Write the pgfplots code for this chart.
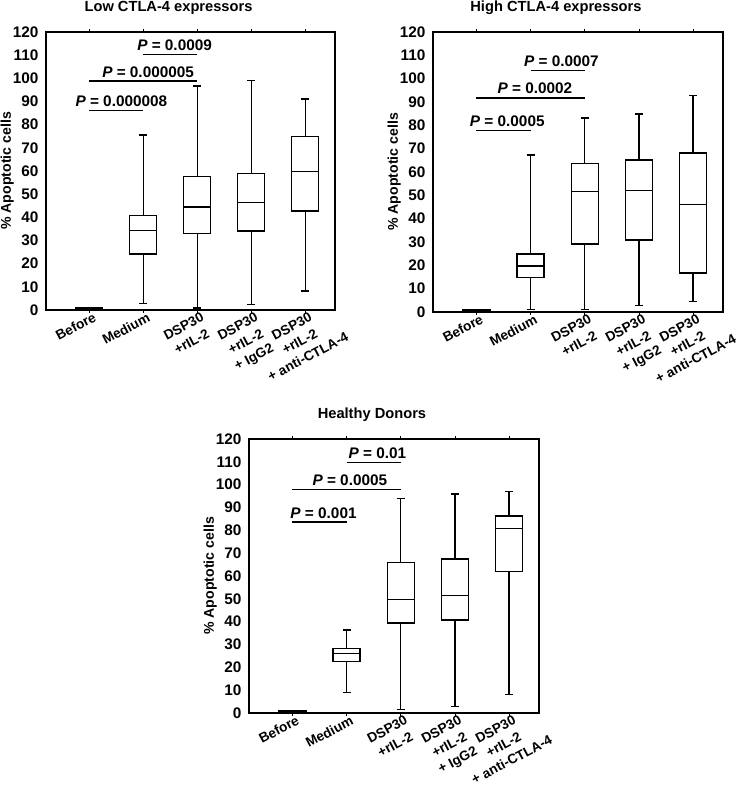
\documentclass[border=0pt]{standalone}
\usepackage{fontspec}
\setmainfont{Liberation Sans}
\usepackage{pgfplots}
\pgfplotsset{compat=1.18}
\usepgfplotslibrary{statistics}

\pgfplotsset{
  myaxis/.style={
    scale only axis,
    anchor=north west,
    xmin=-0.8, xmax=4.55,
    ymin=0, ymax=120,
    ytick={0,10,...,120},
    xtick={0,1,2,3,4},
    xticklabels={Before, Medium, {DSP30\\+rIL-2}, {DSP30\\+rIL-2\\+ IgG2}, {DSP30\\+rIL-2\\\makebox[0pt]{+ anti-CTLA-4}}},
    axis line style={line width=1.4pt},
    /pgf/number format/assume math mode=true,
    yticklabel style={font=\fontsize{11.5}{13}\selectfont\bfseries, inner sep=0pt, xshift=-3.5pt},
    xticklabel style={font=\fontsize{10.2}{12.9}\selectfont\bfseries, rotate=28, anchor=north east, align=center, inner sep=0pt, xshift=2.5pt, yshift=-0.5pt},
    ytick style={draw=none},
    xtick style={black, line width=0.6pt},
    tick align=outside, major tick length=2pt,
    clip=false,
    boxplot/draw direction=y,
    boxplot/box extend=0.5,
    boxplot/whisker extend=0.15,
  },
  bx/.style={black, line width=1.05pt, solid},
  sigline/.style={black, line width=1.1pt, no marks},
}
\tikzset{
  plab/.style={font=\fontsize{11.5}{13}\selectfont\bfseries, anchor=base, yshift=3pt},
  ttl/.style={font=\fontsize{11}{13}\selectfont\bfseries, yshift=18pt},
  ylab/.style={font=\fontsize{10.6}{13}\selectfont\bfseries, rotate=90},
}

\begin{document}
\begin{tikzpicture}
\useasboundingbox (0,0) rectangle (556.5pt,-589.5pt);

% ---------------- Panel 1: Low CTLA-4 expressors
\begin{axis}[myaxis, at={(34.5pt,-24pt)}, width=216.75pt, height=208.5pt]
\addplot[bx, boxplot prepared={lower whisker=0, lower quartile=0, median=0.4, upper quartile=0.8, upper whisker=0.8, draw position=0}] coordinates {};
\addplot[bx, boxplot prepared={lower whisker=2.9, lower quartile=24.2, median=34.3, upper quartile=40.8, upper whisker=75.6, draw position=1}] coordinates {};
\addplot[bx, boxplot prepared={lower whisker=0.9, lower quartile=32.9, median=44.5, upper quartile=57.5, upper whisker=96.7, draw position=2}] coordinates {};
\addplot[bx, boxplot prepared={lower whisker=2.3, lower quartile=34.1, median=46.3, upper quartile=58.9, upper whisker=99.1, draw position=3}] coordinates {};
\addplot[bx, boxplot prepared={lower whisker=8.2, lower quartile=42.8, median=59.8, upper quartile=74.9, upper whisker=91.1, draw position=4}] coordinates {};
\addplot[sigline] coordinates {(0,86.2) (1,86.2)};
\addplot[sigline] coordinates {(0,98.8) (2,98.8)};
\addplot[sigline] coordinates {(1,110.2) (2,110.2)};
\node[plab] at (axis cs:0.595,86.2) {\textit{P} = 0.000008};
\node[plab] at (axis cs:1.09,98.8) {\textit{P} = 0.000005};
\node[plab] at (axis cs:1.58,110.2) {\textit{P} = 0.0009};
\node[ttl] at (rel axis cs:0.424,1) {Low CTLA-4 expressors};
\node[ylab] at ([xshift=-29pt]rel axis cs:0,0.5) {\% Apoptotic cells};
\end{axis}

% ---------------- Panel 2: High CTLA-4 expressors
\begin{axis}[myaxis, at={(324.75pt,-24pt)}, width=217.5pt, height=210pt]
\addplot[bx, boxplot prepared={lower whisker=0, lower quartile=0, median=0.4, upper quartile=0.8, upper whisker=0.8, draw position=0}] coordinates {};
\addplot[bx, boxplot prepared={lower whisker=1.1, lower quartile=14.7, median=19.8, upper quartile=24.8, upper whisker=67.3, draw position=1}] coordinates {};
\addplot[bx, boxplot prepared={lower whisker=1.1, lower quartile=29.2, median=51.6, upper quartile=63.7, upper whisker=83.2, draw position=2}] coordinates {};
\addplot[bx, boxplot prepared={lower whisker=2.9, lower quartile=30.9, median=52.0, upper quartile=65.2, upper whisker=84.8, draw position=3}] coordinates {};
\addplot[bx, boxplot prepared={lower whisker=4.6, lower quartile=16.8, median=46.0, upper quartile=68.2, upper whisker=92.8, draw position=4}] coordinates {};
\addplot[sigline] coordinates {(0,77.8) (1,77.8)};
\addplot[sigline] coordinates {(0,91.8) (2,91.8)};
\addplot[sigline] coordinates {(1,103.5) (2,103.5)};
\node[plab] at (axis cs:0.57,77.8) {\textit{P} = 0.0005};
\node[plab] at (axis cs:1.08,91.8) {\textit{P} = 0.0002};
\node[plab] at (axis cs:1.57,103.5) {\textit{P} = 0.0007};
\node[ttl] at (rel axis cs:0.424,1) {High CTLA-4 expressors};
\node[ylab] at ([xshift=-29pt]rel axis cs:0,0.5) {\% Apoptotic cells};
\end{axis}

% ---------------- Panel 3: Healthy Donors
\begin{axis}[myaxis, at={(186.75pt,-329.25pt)}, width=217.5pt, height=205.5pt]
\addplot[bx, boxplot prepared={lower whisker=0, lower quartile=0, median=0.4, upper quartile=0.8, upper whisker=0.8, draw position=0}] coordinates {};
\addplot[bx, boxplot prepared={lower whisker=8.9, lower quartile=22.6, median=26.0, upper quartile=28.3, upper whisker=36.4, draw position=1}] coordinates {};
\addplot[bx, boxplot prepared={lower whisker=1.5, lower quartile=39.4, median=49.8, upper quartile=65.8, upper whisker=94.0, draw position=2}] coordinates {};
\addplot[bx, boxplot prepared={lower whisker=2.9, lower quartile=40.7, median=51.4, upper quartile=67.4, upper whisker=95.9, draw position=3}] coordinates {};
\addplot[bx, boxplot prepared={lower whisker=8.2, lower quartile=62.0, median=80.9, upper quartile=86.3, upper whisker=97.1, draw position=4}] coordinates {};
\addplot[sigline] coordinates {(0,83.6) (1,83.6)};
\addplot[sigline] coordinates {(0,97.8) (2,97.8)};
\addplot[sigline] coordinates {(1,109.8) (2,109.8)};
\node[plab] at (axis cs:0.575,83.6) {\textit{P} = 0.001};
\node[plab] at (axis cs:1.06,97.8) {\textit{P} = 0.0005};
\node[plab] at (axis cs:1.57,109.8) {\textit{P} = 0.01};
\node[ttl] at (rel axis cs:0.424,1) {Healthy Donors};
\node[ylab] at ([xshift=-29pt]rel axis cs:0,0.5) {\% Apoptotic cells};
\end{axis}
\end{tikzpicture}
\end{document}
